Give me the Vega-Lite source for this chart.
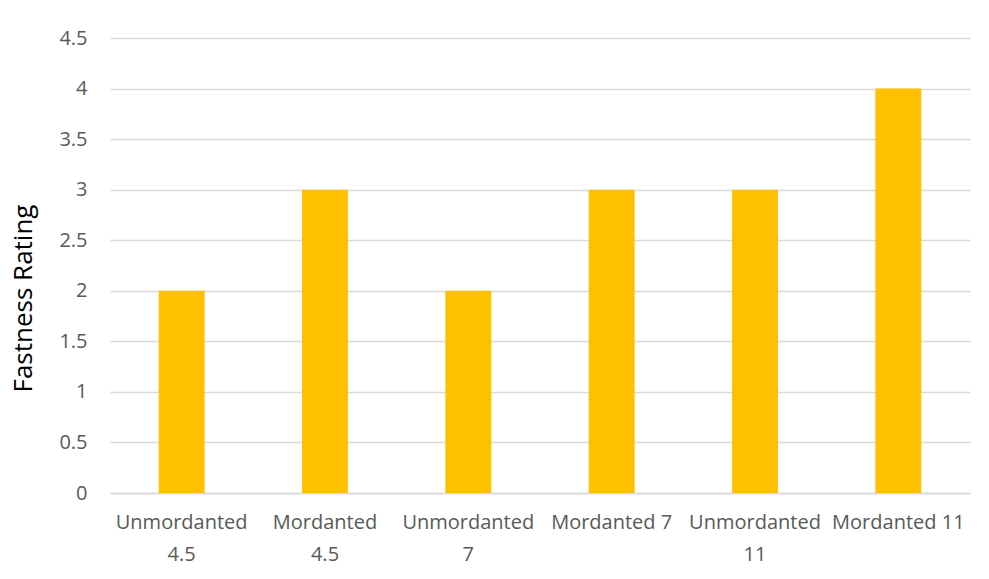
{
  "$schema": "https://vega.github.io/schema/vega-lite/v6.json",
  "width": 860,
  "height": 455,
  "autosize": {"type": "none"},
  "padding": {"left": 110, "top": 38, "right": 19, "bottom": 86},
  "background": "white",
  "config": {"view": {"stroke": null}, "font": "Open Sans"},
  "data": {
    "values": [
      {"sample": "Unmordanted 4.5", "rating": 2},
      {"sample": "Mordanted 4.5", "rating": 3},
      {"sample": "Unmordanted 7", "rating": 2},
      {"sample": "Mordanted 7", "rating": 3},
      {"sample": "Unmordanted 11", "rating": 3},
      {"sample": "Mordanted 11", "rating": 4}
    ]
  },
  "mark": {"type": "bar", "color": "#FFC000"},
  "encoding": {
    "x": {
      "field": "sample",
      "type": "nominal",
      "sort": null,
      "scale": {"paddingInner": 0.68, "paddingOuter": 0.34},
      "axis": {
        "title": null,
        "labelAngle": 0,
        "labelExpr": "datum.value == 'Mordanted 7' || datum.value == 'Mordanted 11' ? datum.value : split(datum.value, ' ')",
        "labelFont": "Open Sans",
        "labelFontSize": 20,
        "labelColor": "#595959",
        "labelLineHeight": 32,
        "labelPadding": 19,
        "labelBaseline": "top",
        "ticks": false,
        "domainColor": "#d9d9d9",
        "domainWidth": 1.5,
        "labelOverlap": false,
        "labelBound": false
      }
    },
    "y": {
      "field": "rating",
      "type": "quantitative",
      "scale": {"domain": [0, 4.5], "nice": false},
      "axis": {
        "title": "Fastness Rating",
        "titleFont": "Open Sans",
        "titleFontSize": 26,
        "titleFontWeight": "normal",
        "titleColor": "#000000",
        "titleX": -87,
        "titleY": 260,
        "titleAngle": -90,
        "titleAlign": "center",
        "titleBaseline": "middle",
        "values": [0, 0.5, 1, 1.5, 2, 2.5, 3, 3.5, 4, 4.5],
        "labelExpr": "datum.value",
        "labelFont": "Open Sans",
        "labelFontSize": 20,
        "labelColor": "#595959",
        "labelPadding": 23,
        "ticks": false,
        "domain": false,
        "gridColor": "#d9d9d9",
        "gridWidth": 1.5
      }
    }
  }
}
